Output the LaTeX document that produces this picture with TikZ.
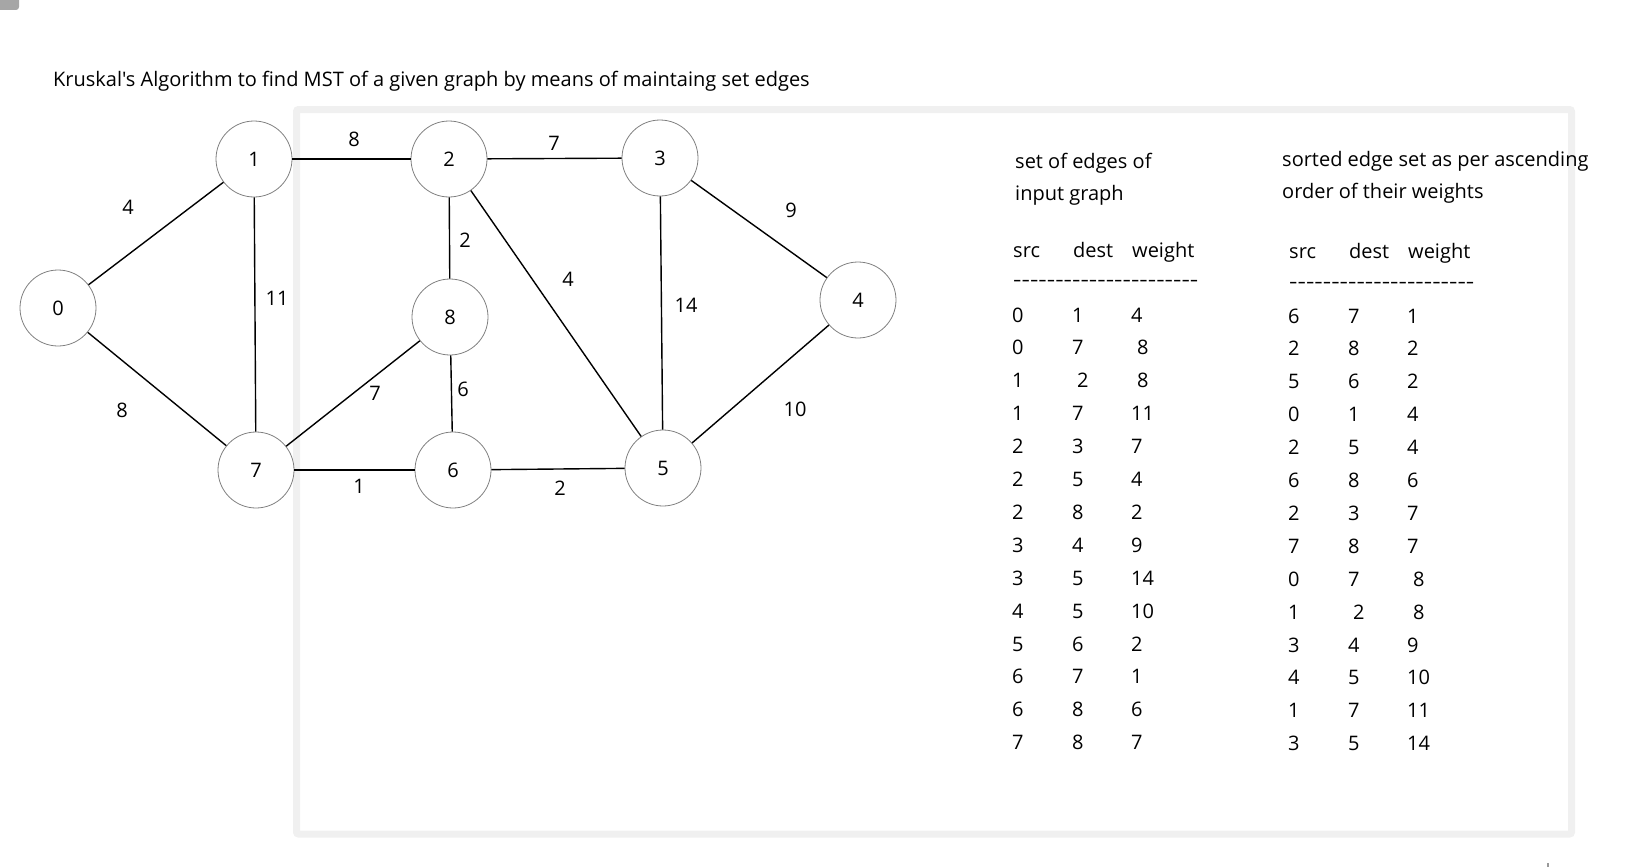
\documentclass[tikz,border=0pt]{standalone}
\usepackage{fontspec}
\usepackage{graphicx}
\newfontfamily\tf{Open Sans}
\newcommand{\dashrow}{\resizebox{185pt}{\height}{-{}-{}-{}-{}-{}-{}-{}-{}-{}-{}-{}-{}-{}-{}-{}-{}-{}-{}-{}-{}-{}-}}
\begin{document}
\begin{tikzpicture}[x=1pt,y=-1pt,
  vtx/.style={circle, draw=black!50, line width=0.8pt, fill=white, minimum size=76pt, inner sep=0pt, font=\tf\fontsize{20}{20}\selectfont},
  edg/.style={line width=1.4pt, black},
  lbl/.style={font=\tf\fontsize{20}{20}\selectfont, inner sep=0pt},
  txt/.style={font=\tf\fontsize{20}{20}\selectfont, inner sep=0pt, anchor=base west},
]
\useasboundingbox (0,0) rectangle (1625,867);
% decorations at the image corners
\fill[black!35, rounded corners=3pt] (-10,-10) rectangle (19,10);
\fill[black!40] (1547,863) rectangle (1549,867);
% frame
\draw[draw=black!6, line width=7pt, rounded corners=2pt] (296.5,109.5) rectangle (1571.5,834);
% title
\node[txt] (title) at (53,87) {Kruskal's Algorithm to find MST of a given graph by means of maintaing set edges};
% vertices
\node[vtx] (n0) at (58,308) {0};
\node[vtx] (n1) at (254,159) {1};
\node[vtx] (n2) at (449,159) {2};
\node[vtx] (n3) at (660,158) {3};
\node[vtx] (n4) at (858,300) {4};
\node[vtx] (n5) at (663,468) {5};
\node[vtx] (n6) at (453,470) {6};
\node[vtx] (n7) at (256,470) {7};
\node[vtx] (n8) at (450,317) {8};
% edges
\draw[edg] (n0) -- (n1);
\draw[edg] (n0) -- (n7);
\draw[edg] (n1) -- (n2);
\draw[edg] (n1) -- (n7);
\draw[edg] (n2) -- (n3);
\draw[edg] (n2) -- (n5);
\draw[edg] (n2) -- (n8);
\draw[edg] (n3) -- (n4);
\draw[edg] (n3) -- (n5);
\draw[edg] (n4) -- (n5);
\draw[edg] (n5) -- (n6);
\draw[edg] (n6) -- (n7);
\draw[edg] (n6) -- (n8);
\draw[edg] (n7) -- (n8);
% edge weights
\node[lbl] (w01) at (128,207) {4};
\node[lbl] (w07) at (122,410) {8};
\node[lbl] (w17) at (277,298) {11};
\node[lbl] (w12) at (354,139) {8};
\node[lbl] (w28) at (465,240) {2};
\node[lbl] (w78) at (375,393) {7};
\node[lbl] (w86) at (463,389) {6};
\node[lbl] (w76) at (359,486) {1};
\node[lbl] (w23) at (554,143) {7};
\node[lbl] (w25) at (568,279) {4};
\node[lbl] (w35) at (686,305) {14};
\node[lbl] (w34) at (791,210) {9};
\node[lbl] (w45) at (795,409) {10};
\node[lbl] (w65) at (560,488) {2};
% left table
\node[txt] (lh1) at (1015,168) {set of edges of};
\node[txt] (lh2) at (1015,200) {input graph};
\node[txt] (lsrc) at (1013,257) {src};
\node[txt] (ldest) at (1073,257) {dest};
\node[txt] (lwt) at (1132,257) {weight};
\node[txt] (ldash) at (1013,286) {\dashrow};
\foreach \s/\d/\w/\dx/\wx [count=\i from 0] in {0/1/4/0/0, 0/7/8/0/6, 1/2/8/5/6, 1/7/11/0/0, 2/3/7/0/0, 2/5/4/0/0, 2/8/2/0/0, 3/4/9/0/0, 3/5/14/0/0, 4/5/10/0/0, 5/6/2/0/0, 6/7/1/0/0, 6/8/6/0/0, 7/8/7/0/0}{
  \node[txt] (ls\i) at (1012,322+32.9*\i) {\s};
  \node[txt] (ld\i) at (1072+\dx,322+32.9*\i) {\d};
  \node[txt] (lw\i) at (1131+\wx,322+32.9*\i) {\w};
}
% right table
\node[txt] (rh1) at (1282,166) {sorted edge set as per ascending};
\node[txt] (rh2) at (1282,198) {order of their weights};
\node[txt] (rsrc) at (1289,258) {src};
\node[txt] (rdest) at (1349,258) {dest};
\node[txt] (rwt) at (1408,258) {weight};
\node[txt] (rdash) at (1289,288) {\dashrow};
\foreach \s/\d/\w/\dx/\wx [count=\i from 0] in {6/7/1/0/0, 2/8/2/0/0, 5/6/2/0/0, 0/1/4/0/0, 2/5/4/0/0, 6/8/6/0/0, 2/3/7/0/0, 7/8/7/0/0, 0/7/8/0/6, 1/2/8/5/6, 3/4/9/0/0, 4/5/10/0/0, 1/7/11/0/0, 3/5/14/0/0}{
  \node[txt] (rs\i) at (1288,323+32.9*\i) {\s};
  \node[txt] (rd\i) at (1348+\dx,323+32.9*\i) {\d};
  \node[txt] (rw\i) at (1407+\wx,323+32.9*\i) {\w};
}
\end{tikzpicture}
\end{document}
